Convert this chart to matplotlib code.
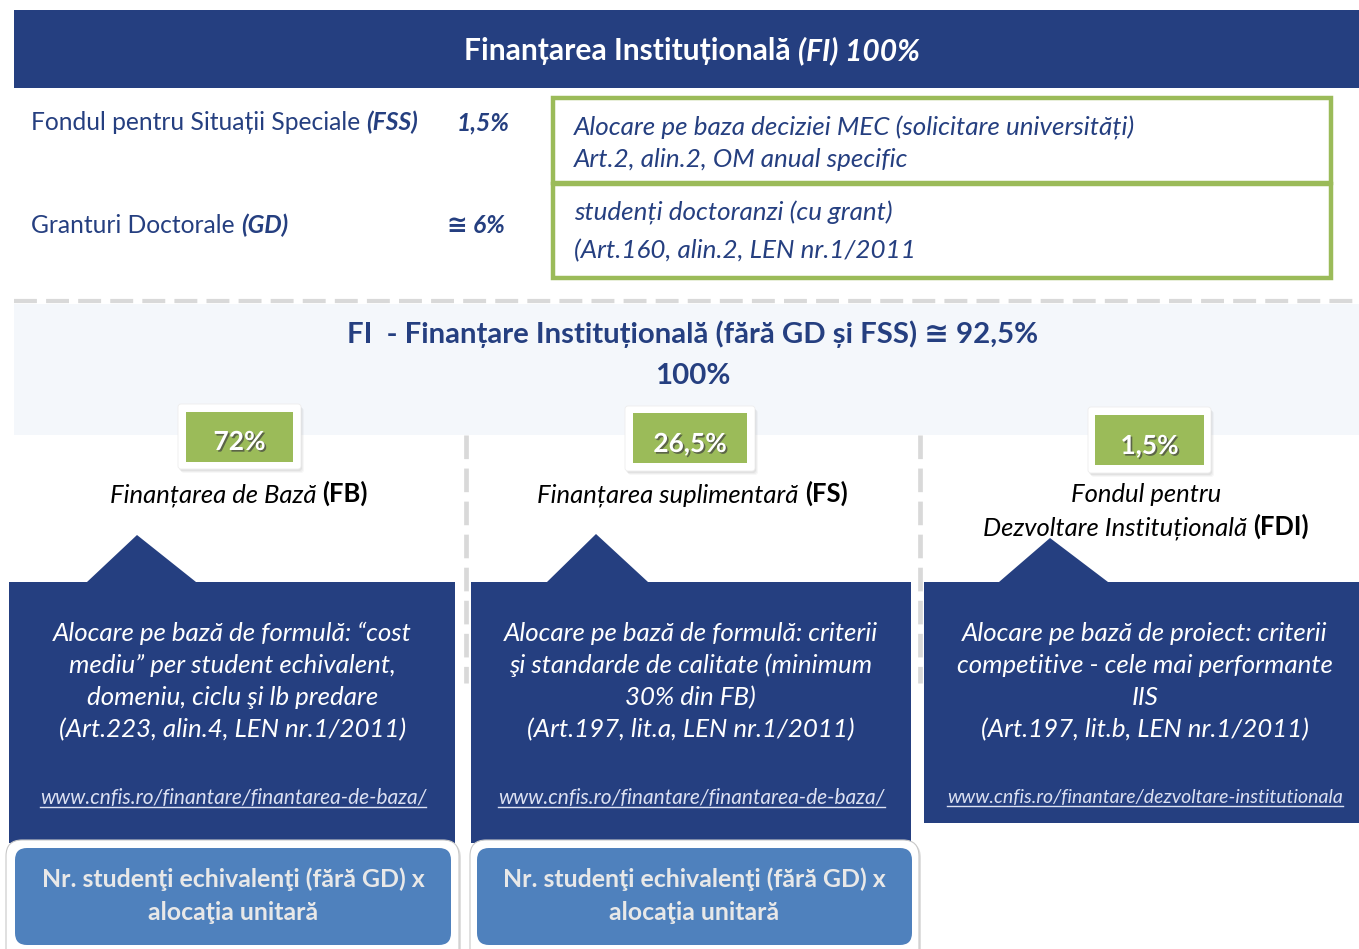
import matplotlib
matplotlib.use('Agg')
import matplotlib.pyplot as plt
from matplotlib.patches import Rectangle, Polygon, FancyBboxPatch
import matplotlib.patheffects as pe

# ---------------- content ----------------
top_title = "Finanțarea Instituțională "
top_title_em = "(FI) 100%"
side_labels = ["Fondul pentru Situații Speciale ", "Granturi Doctorale "]
side_abbr = ["(FSS)", "(GD)"]
side_pcts = ["1,5%", "≅ 6%"]
side_desc = [["Alocare pe baza deciziei MEC (solicitare universități)",
              "Art.2, alin.2, OM anual specific"],
             ["studenți doctoranzi (cu grant)",
              "(Art.160, alin.2, LEN nr.1/2011"]]
band_title = "FI  - Finanțare Instituțională (fără GD și FSS) ≅ 92,5%"
band_total = "100%"
comp_pcts = ["72%", "26,5%", "1,5%"]
comp_names = [["Finanțarea de Bază "], ["Finanțarea suplimentară "],
              ["Fondul pentru", "Dezvoltare Instituțională "]]
comp_abbr = ["(FB)", "(FS)", "(FDI)"]
comp_desc = [["Alocare pe bază de formulă: “cost", "mediu” per student echivalent,",
              "domeniu, ciclu şi lb predare", "(Art.223, alin.4, LEN nr.1/2011)"],
             ["Alocare pe bază de formulă: criterii", "şi standarde de calitate (minimum",
              "30% din FB)", "(Art.197, lit.a, LEN nr.1/2011)"],
             ["Alocare pe bază de proiect: criterii", "competitive - cele mai performante",
              "IIS", "(Art.197, lit.b, LEN nr.1/2011)"]]
comp_urls = ["www.cnfis.ro/finantare/finantarea-de-baza/",
             "www.cnfis.ro/finantare/finantarea-de-baza/",
             "www.cnfis.ro/finantare/dezvoltare-institutionala"]
formula_lines = ["Nr. studenţi echivalenţi (fără GD) x", "alocaţia unitară"]

# ---------------- style ----------------
DARK = '#253F80'
GREEN = '#9BBB59'
LBLUE = '#4F81BD'
BAND = '#F4F7FB'
GRAY = '#D9D9D9'
FAM = ['Lato', 'DejaVu Sans']

W, H = 1359, 949
fig = plt.figure(figsize=(W / 100, H / 100), dpi=100)
ax = fig.add_axes([0, 0, 1, 1])
ax.set_xlim(0, W)
ax.set_ylim(H, 0)
ax.axis('off')
renderer = fig.canvas.get_renderer()


def _w(txt, size, weight, style):
    t = ax.text(0, 0, txt, fontsize=size, fontweight=weight, fontstyle=style, family=FAM)
    r = t.get_window_extent(renderer).width
    t.remove()
    return r


def measure(s, size, weight='normal', style='normal'):
    return _w('|' + s + '|', size, weight, style) - _w('||', size, weight, style)


def line_width(segs, size):
    return sum(measure(s, size, wt, st) for s, wt, st in segs)


def fit(segs, target):
    base = 20.0
    return base * target / line_width(segs, base)


def draw(segs, x, y, size, color, ha='center', **kw):
    widths = [measure(s, size, wt, st) for s, wt, st in segs]
    total = sum(widths)
    if ha == 'center':
        x0 = x - total / 2
    elif ha == 'right':
        x0 = x - total
    else:
        x0 = x
    cx = x0
    for (s, wt, st), w in zip(segs, widths):
        ax.text(cx, y, s, fontsize=size, fontweight=wt, fontstyle=st, family=FAM,
                color=color, ha='left', va='baseline', **kw)
        cx += w
    return x0, total


# ---------------- top banner ----------------
ax.add_patch(Rectangle((14, 10), W - 14, 78, color=DARK, lw=0))
segs = [(top_title, 'bold', 'normal'), (top_title_em, 'bold', 'italic')]
draw(segs, 692, 60, fit(segs, 456), 'white')

# side rows
s_side = fit([(side_labels[0], 'normal', 'normal'), (side_abbr[0], 'bold', 'italic')], 389)
for i, yb in enumerate([130, 233]):
    draw([(side_labels[i], 'normal', 'normal'), (side_abbr[i], 'bold', 'italic')],
         31, yb, s_side, DARK, ha='left')
draw([(side_pcts[0], 'bold', 'italic')], 510, 130, s_side, DARK, ha='right')
draw([(side_pcts[1], 'bold', 'italic')], 505, 233, s_side, DARK, ha='right')

# green boxes
ax.add_patch(Rectangle((553, 98), 778, 85, fill=False, ec=GREEN, lw=3.2, joinstyle='miter'))
ax.add_patch(Rectangle((553, 184), 778, 94, fill=False, ec=GREEN, lw=3.2, joinstyle='miter'))
s_desc = fit([(side_desc[0][0], 'normal', 'italic')], 560)
for lines, ys in zip(side_desc, [(135, 167), (220, 258)]):
    for ln, yb in zip(lines, ys):
        draw([(ln, 'normal', 'italic')], 574, yb, s_desc, DARK, ha='left')

# dashed separator + band
ax.plot([14, W], [301, 301], color=GRAY, lw=3, dashes=(5.5, 2.2), solid_capstyle='butt')
ax.add_patch(Rectangle((14, 304), W - 14, 131, color=BAND, lw=0))
s_band = fit([(band_title, 'bold', 'normal')], 693)
draw([(band_title, 'bold', 'normal')], 692.5, 343, s_band, DARK)
draw([(band_total, 'bold', 'normal')], 692.5, 384, s_band, DARK)

# vertical dashed lines
for xv in [466, 920]:
    ax.plot([xv, xv], [435, 683], color=GRAY, lw=3.4, dashes=(5, 2), solid_capstyle='butt')

# percentage boxes
pct_white = [(178, 404, 123, 65), (625, 406, 130, 65), (1088, 407, 123, 66)]
pct_green = [(186, 412, 107, 50), (633, 413, 114, 50), (1095, 415, 109, 50)]
pct_base = [450, 452, 454]
s_pct = fit([(comp_pcts[1], 'bold', 'normal')], 73.5)
for (wx, wy, ww, wh), (gx, gy, gw, gh), yb, p in zip(pct_white, pct_green, pct_base, comp_pcts):
    for k, a in enumerate([0.10, 0.08, 0.06]):
        ax.add_patch(FancyBboxPatch((wx + 1 + k, wy + 2 + k), ww, wh,
                                    boxstyle='round,pad=0,rounding_size=3',
                                    fc='#7F7F7F', ec='none', alpha=a))
    ax.add_patch(FancyBboxPatch((wx, wy), ww, wh, boxstyle='round,pad=0,rounding_size=3',
                                fc='white', ec='#EDEDED', lw=0.6))
    ax.add_patch(Rectangle((gx, gy), gw, gh, color=GREEN, lw=0))
    ax.text(gx + gw / 2, yb, p, fontsize=s_pct, fontweight='bold', family=FAM, color='white',
            ha='center', va='baseline',
            path_effects=[pe.withSimplePatchShadow(offset=(1.2, -1.2), shadow_rgbFace='#404040',
                                                   alpha=0.7)])

# component labels
s_lab = fit([(comp_names[0][0], 'normal', 'italic'), (comp_abbr[0], 'bold', 'normal')], 258)
lab_cx = [239, 692.5, 1146]
for i in range(3):
    names = comp_names[i]
    ys = [502] if len(names) == 1 else [502, 535]
    for j, (nm, yb) in enumerate(zip(names, ys)):
        segs = [(nm, 'normal', 'italic')]
        if j == len(names) - 1:
            segs.append((comp_abbr[i], 'bold', 'normal'))
        draw(segs, lab_cx[i], yb, s_lab, 'black')

# dark panels with notch
panels = [(9, 455, 582, 843, 87, 137, 196, 535),
          (471, 911, 582, 843, 547, 596, 648, 534),
          (924, W + 2, 582, 823, 999, 1050, 1108, 538)]
for x0, x1, top, bot, b0, apx, b1, apy in panels:
    ax.add_patch(Polygon([(x0, top), (b0, top), (apx, apy), (b1, top), (x1, top),
                          (x1, bot), (x0, bot)], closed=True, fc=DARK, ec='none'))

s_pan = fit([(comp_desc[0][0], 'normal', 'italic')], 358)
url_width = [386, 386, 396]
pan_cx = [232.5, 690.5, 1145]
url_cx = [233, 691.5, 1145]
url_y = [804, 804, 803]
for i in range(3):
    for ln, yb in zip(comp_desc[i], [641, 673, 705, 737]):
        draw([(ln, 'normal', 'italic')], pan_cx[i], yb, s_pan, 'white')
    s_url = fit([(comp_urls[i], 'normal', 'italic')], url_width[i])
    x0, tw = draw([(comp_urls[i], 'normal', 'italic')], url_cx[i], url_y[i], s_url, '#DCE1F2')
    ax.plot([x0, x0 + tw], [url_y[i] + 3, url_y[i] + 3], color='#DCE1F2', lw=1.0)

# formula boxes
f_outer = [(6, 840, 453, 130), (470, 840, 449, 130)]
f_inner = [(15, 848, 436, 97), (477, 848, 435, 97)]
f_cx = [233, 694]
s_f = fit([(formula_lines[0], 'bold', 'normal')], 384)
for (ox, oy, ow, oh), (ix, iy, iw, ih), cx in zip(f_outer, f_inner, f_cx):
    ax.add_patch(FancyBboxPatch((ox + 2, oy + 2), ow, oh, boxstyle='round,pad=0,rounding_size=16',
                                fc='#A6A6A6', ec='none', alpha=0.35))
    ax.add_patch(FancyBboxPatch((ox, oy), ow, oh, boxstyle='round,pad=0,rounding_size=16',
                                fc='white', ec='#C8C8C8', lw=0.8))
    ax.add_patch(FancyBboxPatch((ix, iy), iw, ih, boxstyle='round,pad=0,rounding_size=12',
                                fc=LBLUE, ec='none'))
    for ln, yb in zip(formula_lines, [887, 920]):
        draw([(ln, 'bold', 'normal')], cx, yb, s_f, '#E8E8E8')

fig.savefig('out.png', dpi=100)
